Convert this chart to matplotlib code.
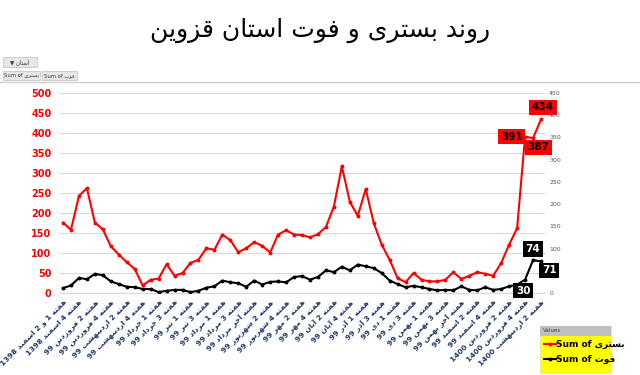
import matplotlib
matplotlib.use("Agg")
import matplotlib.pyplot as plt
from matplotlib.patches import Rectangle

# شکل های پیوستی حروف فارسی (منفرد، پایانی، آغازی، میانی)
FORMS = {
    'ا': ('\uFE8D', '\uFE8E', None, None),
    'آ': ('\uFE81', '\uFE82', None, None),
    'ب': ('\uFE8F', '\uFE90', '\uFE91', '\uFE92'),
    'ت': ('\uFE95', '\uFE96', '\uFE97', '\uFE98'),
    'خ': ('\uFEA5', '\uFEA6', '\uFEA7', '\uFEA8'),
    'د': ('\uFEA9', '\uFEAA', None, None),
    'ذ': ('\uFEAB', '\uFEAC', None, None),
    'ر': ('\uFEAD', '\uFEAE', None, None),
    'ز': ('\uFEAF', '\uFEB0', None, None),
    'س': ('\uFEB1', '\uFEB2', '\uFEB3', '\uFEB4'),
    'ش': ('\uFEB5', '\uFEB6', '\uFEB7', '\uFEB8'),
    'ف': ('\uFED1', '\uFED2', '\uFED3', '\uFED4'),
    'ق': ('\uFED5', '\uFED6', '\uFED7', '\uFED8'),
    'م': ('\uFEE1', '\uFEE2', '\uFEE3', '\uFEE4'),
    'ن': ('\uFEE5', '\uFEE6', '\uFEE7', '\uFEE8'),
    'ه': ('\uFEE9', '\uFEEA', '\uFEEB', '\uFEEC'),
    'و': ('\uFEED', '\uFEEE', None, None),
    'ی': ('\uFBFC', '\uFBFD', '\uFBFE', '\uFBFF'),
}


def shape_word(w):
    out = []
    for k, ch in enumerate(w):
        f = FORMS.get(ch)
        if f is None:
            out.append(ch)
            continue
        prev = w[k - 1] if k > 0 else None
        nxt = w[k + 1] if k < len(w) - 1 else None
        jp = prev in FORMS and FORMS[prev][2] is not None
        jn = nxt in FORMS and f[2] is not None
        if jp and jn:
            out.append(f[3])
        elif jp:
            out.append(f[1])
        elif jn:
            out.append(f[2])
        else:
            out.append(f[0])
    return ''.join(reversed(out))


def fa(text):
    toks = text.split(' ')
    res = [shape_word(t) if any(c in FORMS for c in t) else t for t in toks]
    return ' '.join(reversed(res))


# داده ها
week_labels = [
    "هفته 1 و 2 اسفند 1398", "هفته 4 اسفند 1398", "هفته 2 فروردین 99",
    "هفته 4 فروردین 99", "هفته 2 اردیبهشت 99", "هفته 4 اردیبهشت 99",
    "هفته 1 خرداد 99", "هفته 3 خرداد 99", "هفته 1 تیر 99", "هفته 3 تیر 99",
    "هفته 1 مرداد 99", "هفته 3 مرداد 99", "هفته آخر مرداد 99",
    "هفته 2 شهریور 99", "هفته 4 شهریور 99", "هفته 2 مهر 99", "هفته 4 مهر 99",
    "هفته 2 آبان 99", "هفته 4 آبان 99", "هفته 1 آذر 99", "هفته 3 آذر 99",
    "هفته 1 دی 99", "هفته 3 دی 99", "هفته 1 بهمن 99", "هفته 3 بهمن 99",
    "هفته آخر بهمن 99", "هفته 2 اسفند 99", "هفته 4 اسفند 99",
    "هفته 2 فروردین 1400", "هفته 4 فروردین 1400", "هفته 2 اردیبهشت 1400",
]

bastari = [176, 158, 243, 262, 176, 159, 117, 96, 77, 60,
           19, 33, 36, 72, 43, 50, 75, 83, 112, 108,
           146, 132, 102, 112, 127, 118, 101, 146, 157, 146,
           145, 139, 147, 165, 216, 317, 228, 193, 260, 175,
           121, 83, 37, 27, 50, 33, 29, 29, 33, 52,
           35, 43, 52, 48, 43, 75, 121, 162, 391, 387, 434]

fot = [11, 17, 34, 31, 43, 40, 26, 20, 14, 13,
       9, 9, 2, 5, 7, 7, 2, 5, 12, 15,
       28, 24, 22, 14, 28, 19, 25, 26, 24, 36,
       38, 30, 36, 51, 47, 59, 51, 64, 60, 56,
       45, 28, 20, 13, 16, 13, 9, 6, 7, 6,
       15, 7, 6, 13, 7, 9, 15, 19, 30, 74, 71]

x = list(range(len(bastari)))

plt.rcParams['font.family'] = ['DejaVu Sans']

fig = plt.figure(figsize=(6.4, 3.75), dpi=100)
W, H = 640.0, 375.0
ax = fig.add_axes([60 / W, 1 - 293 / H, 485 / W, 200 / H])
ax2 = ax.twinx()

ax.plot(x, bastari, color='#FF0000', lw=1.5, marker='o', ms=1.8, zorder=3)
ax2.plot(x, fot, color='black', lw=1.5, marker='o', ms=1.8, zorder=3)

ax.set_xlim(-0.38, 60.5)
ax.set_ylim(0, 500)
ax2.set_ylim(0, 450)
ax.set_yticks(range(0, 501, 50))
ax2.set_yticks(range(0, 451, 50))
ax.grid(axis='y', color='#D9D9D9', lw=0.8)
ax.set_axisbelow(True)

for a in (ax, ax2):
    for s in a.spines.values():
        s.set_visible(False)
ax.spines['bottom'].set_visible(True)
ax.spines['bottom'].set_color('#D9D9D9')

ax.tick_params(axis='y', length=0, pad=6, labelcolor='#FF0000', labelsize=7)
for t in ax.get_yticklabels():
    t.set_fontweight('bold')
ax2.tick_params(axis='y', length=0, pad=3, labelcolor='#595959', labelsize=4.5)

ax.set_xticks(x[::2])
ax.set_xticklabels([fa(l) for l in week_labels], rotation=45, ha='right',
                   va='top', rotation_mode='anchor', fontsize=5.4,
                   fontweight='bold', color='#1F3864')
ax.tick_params(axis='x', length=0, pad=4)

# برچسب داده ها
red_offsets = {58: (-9.5, 0), 59: (3.6, -6.5), 60: (1.4, 8.6)}
for i, (dx, dy) in red_offsets.items():
    ax.annotate(str(bastari[i]), (x[i], bastari[i]), xytext=(dx, dy),
                textcoords='offset points', ha='center', va='center',
                fontsize=7.5, fontweight='bold', color='black', zorder=5,
                bbox=dict(boxstyle='square,pad=0.25', fc='#FF0000', ec='none'))
black_offsets = {58: (-1.4, -8), 59: (0, 8), 60: (5.8, -6.5)}
for i, (dx, dy) in black_offsets.items():
    ax2.annotate(str(fot[i]), (x[i], fot[i]), xytext=(dx, dy),
                 textcoords='offset points', ha='center', va='center',
                 fontsize=7.5, fontweight='bold', color='white', zorder=5,
                 bbox=dict(boxstyle='square,pad=0.25', fc='black', ec='none'))

# عنوان
fig.text(0.5, 1 - 30 / H, fa("روند بستری و فوت استان قزوین"), ha='center',
         va='center', fontsize=18, color='black')

# دکمه های فیلتر
fig.add_artist(Rectangle((3 / W, 1 - 67 / H), 34 / W, 10 / H, fc='#E7E6E6',
                         ec='#BFBFBF', lw=0.5, transform=fig.transFigure))
fig.text(20 / W, 1 - 62 / H, "▼ " + fa("استان"), ha='center', va='center',
         fontsize=4, color='#404040')
fig.add_artist(Rectangle((3 / W, 1 - 80 / H), 37 / W, 9 / H, fc='#E7E6E6',
                         ec='#BFBFBF', lw=0.5, transform=fig.transFigure))
fig.text(21.5 / W, 1 - 75.5 / H, "Sum of " + fa("بستری"), ha='center',
         va='center', fontsize=3.8, color='#404040')
fig.add_artist(Rectangle((42 / W, 1 - 80 / H), 35 / W, 9 / H, fc='#E7E6E6',
                         ec='#BFBFBF', lw=0.5, transform=fig.transFigure))
fig.text(59.5 / W, 1 - 75.5 / H, "Sum of " + fa("فوت"), ha='center',
         va='center', fontsize=3.8, color='#404040')
fig.add_artist(plt.Line2D([0, 1], [1 - 82 / H, 1 - 82 / H], color='#D0D0D0',
                          lw=1, transform=fig.transFigure))

# راهنما
fig.add_artist(Rectangle((540 / W, 1 - 373 / H), 71 / W, 47 / H, fc='#FFFF00',
                         ec='#E0E0A0', lw=0.5, transform=fig.transFigure))
fig.add_artist(Rectangle((540 / W, 1 - 336 / H), 71 / W, 10 / H, fc='#BFBFBF',
                         ec='none', transform=fig.transFigure))
fig.text(543 / W, 1 - 331 / H, "Values", ha='left', va='center', fontsize=4,
         color='#404040')
h1 = ax.get_lines()[0]
h2 = ax2.get_lines()[0]
fig.legend([h1, h2], ["Sum of " + fa("بستری"), "Sum of " + fa("فوت")],
           loc='upper left', bbox_to_anchor=(542 / W, 1 - 338 / H),
           frameon=False, prop={'weight': 'bold', 'size': 6.5},
           handlelength=1.3, handletextpad=0.1, labelspacing=0.7,
           borderaxespad=0, borderpad=0.2)

fig.savefig("out.png", dpi=100)
